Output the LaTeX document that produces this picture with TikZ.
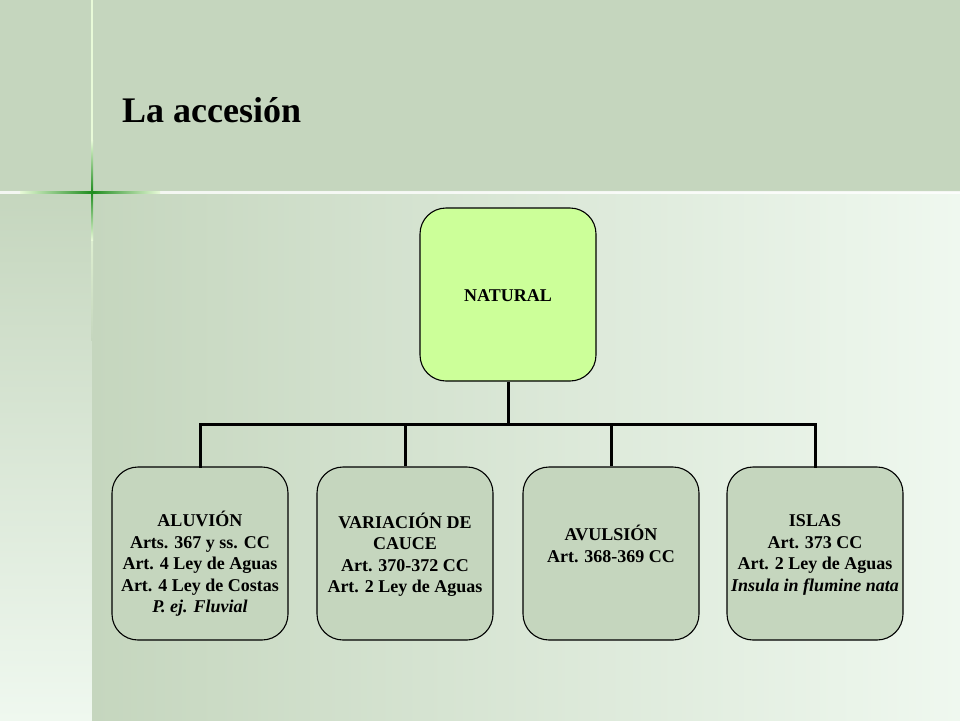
\documentclass[tikz,border=0pt]{standalone}
\usepackage{fontspec}
\setmainfont{Liberation Serif}
\begin{document}
\begin{tikzpicture}[x=1pt,y=-1pt,
  bgband/.style={fill=band,draw=none},
  natbox/.style={draw=black,line width=1.1pt,fill=natfill,rounded corners=26pt,minimum width=176pt,minimum height=173pt,inner sep=0pt},
  subbox/.style={draw=black,line width=1.1pt,fill=band,rounded corners=26pt,minimum width=176pt,minimum height=173pt,inner sep=0pt},
  boxtext/.style={align=center,font=\fontsize{18}{21.5}\selectfont\bfseries,inner sep=0pt},
  conn/.style={line width=3pt,draw=black}]
\definecolor{band}{HTML}{C5D6BE}
\definecolor{pale}{HTML}{EFF8EF}
\definecolor{natfill}{HTML}{CCFF99}
\definecolor{glow}{HTML}{1E8C1E}
\definecolor{lineclr}{HTML}{E8FAD8}
% background
\useasboundingbox (0,0) rectangle (960,720);
\fill[band] (0,0) rectangle (960,192);
\shade[top color=band,bottom color=pale] (0,192) rectangle (92,720);
\shade[left color=band,right color=pale] (92,192) rectangle (960,720);
% light lines
\fill[white,opacity=0.8] (0,191) rectangle (960,193.5);
\fill[lineclr] (91,0) rectangle (93,192);
\shade[top color=lineclr,bottom color=band] (91,192) rectangle (93,340);
% green glow of the cross
\shade[left color=lineclr,right color=glow] (20,191) rectangle (92,193.5);
\shade[left color=glow,right color=lineclr] (92,191) rectangle (160,193.5);
\shade[top color=lineclr,bottom color=glow] (91,140) rectangle (93,192);
\shade[top color=glow,bottom color=lineclr] (91,192) rectangle (93,240);
% title
\node[anchor=base west,font=\fontsize{36}{40}\selectfont\bfseries,inner sep=0pt] (title) at (122,122) {La accesión};
% boxes
\node[natbox] (nat) at (508,294.5) {};
\node[boxtext] (natt) at (508,296) {NATURAL};
\node[subbox] (b1) at (200,553.5) {};
\node[subbox] (b2) at (405,553.5) {};
\node[subbox] (b3) at (611,553.5) {};
\node[subbox] (b4) at (815,553.5) {};
\node[boxtext] (t1) at (200,564) {ALUVIÓN\\Arts. 367 y ss. CC\\Art. 4 Ley de Aguas\\Art. 4 Ley de Costas\\\textit{P. ej. Fluvial}};
\node[boxtext] (t2) at (405,555) {VARIACIÓN DE\\CAUCE\\Art. 370-372 CC\\Art. 2 Ley de Aguas};
\node[boxtext] (t3) at (611,544) {AVULSIÓN\\Art. 368-369 CC};
\node[boxtext] (t4) at (815,555) {ISLAS\\Art. 373 CC\\Art. 2 Ley de Aguas\\\textit{Insula in flumine nata}};
% connectors
\coordinate (j) at (508,424);
\draw[conn] (nat.south) -- (j);
\draw[conn,line cap=rect] (b1.north) |- (j);
\draw[conn,line cap=rect] (b4.north) |- (j);
\draw[conn] (b2.north) -- (b2.north |- j);
\draw[conn] (b3.north) -- (b3.north |- j);
\end{tikzpicture}
\end{document}
